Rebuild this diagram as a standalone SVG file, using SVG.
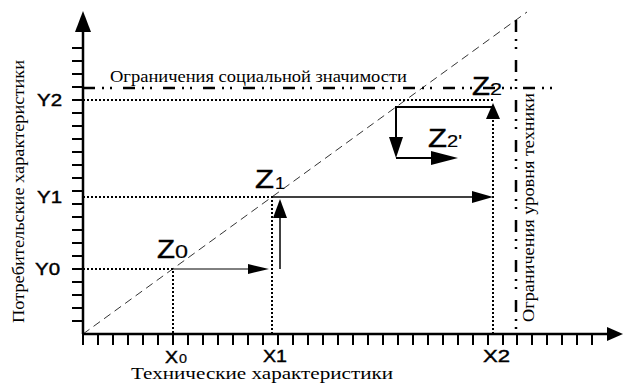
<svg xmlns="http://www.w3.org/2000/svg" width="623" height="383" viewBox="0 0 623 383">
<style>
.axis{stroke:#000;stroke-width:2.5;fill:none}
.tick{stroke:#000;stroke-width:2;fill:none}
.dot{stroke:#000;stroke-width:2;stroke-dasharray:2 2;fill:none}
.diag{stroke:#000;stroke-width:0.8;stroke-dasharray:8 5;fill:none}
.dashdot{stroke:#000;stroke-width:2.5;stroke-dasharray:12 7 2 6 2 11;fill:none}
.solid{stroke:#000;stroke-width:1.5;fill:none}
.head{fill:#000;stroke:none}
.serif{font-family:"Liberation Serif","Times New Roman",serif;fill:#000}
.sans{font-family:"Liberation Sans",Arial,sans-serif;fill:#000;stroke:#000;stroke-width:0.4}
</style>
<rect width="623" height="383" fill="#fff"/>

<g id="axes">
  <line class="axis" x1="83" y1="30" x2="83" y2="334"/>
  <polygon class="head" points="83,11 75,32 91,32"/>
  <line class="axis" x1="83" y1="334" x2="610" y2="334"/>
  <polygon class="head" points="623,334 607,327 607,341"/>
  <path class="tick" d="M72,321H83M72,308H83M72,295H83M72,282H83M72,269H83M72,256H83M72,243H83M72,230H83M72,217H83M72,204H83M72,191H83M72,178H83M72,165H83M72,152H83M72,139H83M72,126H83M72,113H83M72,100H83M72,87H83M72,74H83M72,61H83M72,48H83"/>
  <path class="tick" d="M83,334V345M98,334V345M113,334V345M128,334V345M143,334V345M158,334V345M173,334V345M188,334V345M203,334V345M218,334V345M233,334V345M248,334V345M263,334V345M278,334V345M293,334V345M308,334V345M323,334V345M338,334V345M353,334V345M368,334V345M383,334V345M398,334V345M413,334V345M428,334V345M443,334V345M458,334V345M473,334V345M488,334V345M503,334V345M517,334V345M532,334V345M547,334V345M562,334V345M577,334V345M592,334V345"/>
</g>

<g id="connectors">
  <line class="diag" x1="83" y1="334" x2="527" y2="12"/>
  <line class="dashdot" x1="83" y1="88" x2="556" y2="88"/>
  <line class="dashdot" x1="516" y1="20" x2="516" y2="334"/>
  <path class="dot" d="M83,269H173V334"/>
  <path class="dot" d="M83,197H272V334"/>
  <path class="dot" d="M83,100H493"/>
  <path class="dot" d="M493,334V116"/>
  <polygon class="head" points="493,103 486,119 500,119"/>
  <line class="solid" x1="173" y1="269" x2="250" y2="269" style="stroke-width:1"/>
  <polygon class="head" points="269,269 248,264 248,274"/>
  <line class="solid" x1="280" y1="269" x2="280" y2="215"/>
  <polygon class="head" points="280,199 273,218 287,218"/>
  <line class="solid" x1="272" y1="197" x2="474" y2="197"/>
  <polygon class="head" points="493,197 472,191 472,203"/>
  <path class="solid" d="M493,107H396V140" style="stroke-width:2"/>
  <polygon class="head" points="396,158 389,137 403,137"/>
  <line class="solid" x1="396" y1="158" x2="432" y2="158" style="stroke-width:2"/>
  <polygon class="head" points="458,158 431,151 431,165"/>
</g>

<g id="label-social"><text class="serif" x="110" y="82" font-size="16" textLength="297" lengthAdjust="spacingAndGlyphs">Ограничения социальной значимости</text></g>
<g id="label-tech-limit"><text class="serif" font-size="16" textLength="229" lengthAdjust="spacingAndGlyphs" transform="translate(534,322) rotate(-90)">Ограничения уровня техники</text></g>
<g id="label-yaxis"><text class="serif" font-size="16" textLength="263" lengthAdjust="spacingAndGlyphs" transform="translate(24,323) rotate(-90)">Потребительские характеристики</text></g>
<g id="label-xaxis"><text class="serif" x="131" y="379" font-size="16" textLength="262" lengthAdjust="spacingAndGlyphs">Технические характеристики</text></g>

<g id="Y2"><text class="sans" x="37" y="106" font-size="16" textLength="25" lengthAdjust="spacingAndGlyphs">Y2</text></g>
<g id="Y1"><text class="sans" x="37" y="203" font-size="16" textLength="25" lengthAdjust="spacingAndGlyphs">Y1</text></g>
<g id="Y0"><text class="sans" x="35" y="275" font-size="16" textLength="25" lengthAdjust="spacingAndGlyphs">Y0</text></g>

<g id="X0"><text class="sans" x="165" y="363" font-size="16" textLength="13" lengthAdjust="spacingAndGlyphs">X</text><text class="sans" x="179" y="363" font-size="12" textLength="8" lengthAdjust="spacingAndGlyphs" style="stroke-width:0.2">0</text></g>
<g id="X1"><text class="sans" x="263" y="362" font-size="16" textLength="24" lengthAdjust="spacingAndGlyphs">X1</text></g>
<g id="X2"><text class="sans" x="483" y="362" font-size="16" textLength="27" lengthAdjust="spacingAndGlyphs">X2</text></g>

<g id="Z0"><text class="sans" x="157" y="258" font-size="25" textLength="18" lengthAdjust="spacingAndGlyphs">Z</text><text class="sans" x="175" y="258" font-size="18" textLength="13" lengthAdjust="spacingAndGlyphs" style="stroke-width:0.2">0</text></g>
<g id="Z1"><text class="sans" x="255" y="188" font-size="25" textLength="19" lengthAdjust="spacingAndGlyphs">Z</text><text class="sans" x="275" y="189" font-size="17" textLength="10" lengthAdjust="spacingAndGlyphs" style="stroke-width:0.2">1</text></g>
<g id="Z2"><text class="sans" x="472" y="95" font-size="25" textLength="18" lengthAdjust="spacingAndGlyphs">Z</text><text class="sans" x="490" y="95" font-size="17" textLength="12" lengthAdjust="spacingAndGlyphs" style="stroke-width:0.2">2</text></g>
<g id="Z2p"><text class="sans" x="428" y="147" font-size="25" textLength="19" lengthAdjust="spacingAndGlyphs">Z</text><text class="sans" x="447" y="147" font-size="17" textLength="15" lengthAdjust="spacingAndGlyphs" style="stroke-width:0.2">2'</text></g>
</svg>
